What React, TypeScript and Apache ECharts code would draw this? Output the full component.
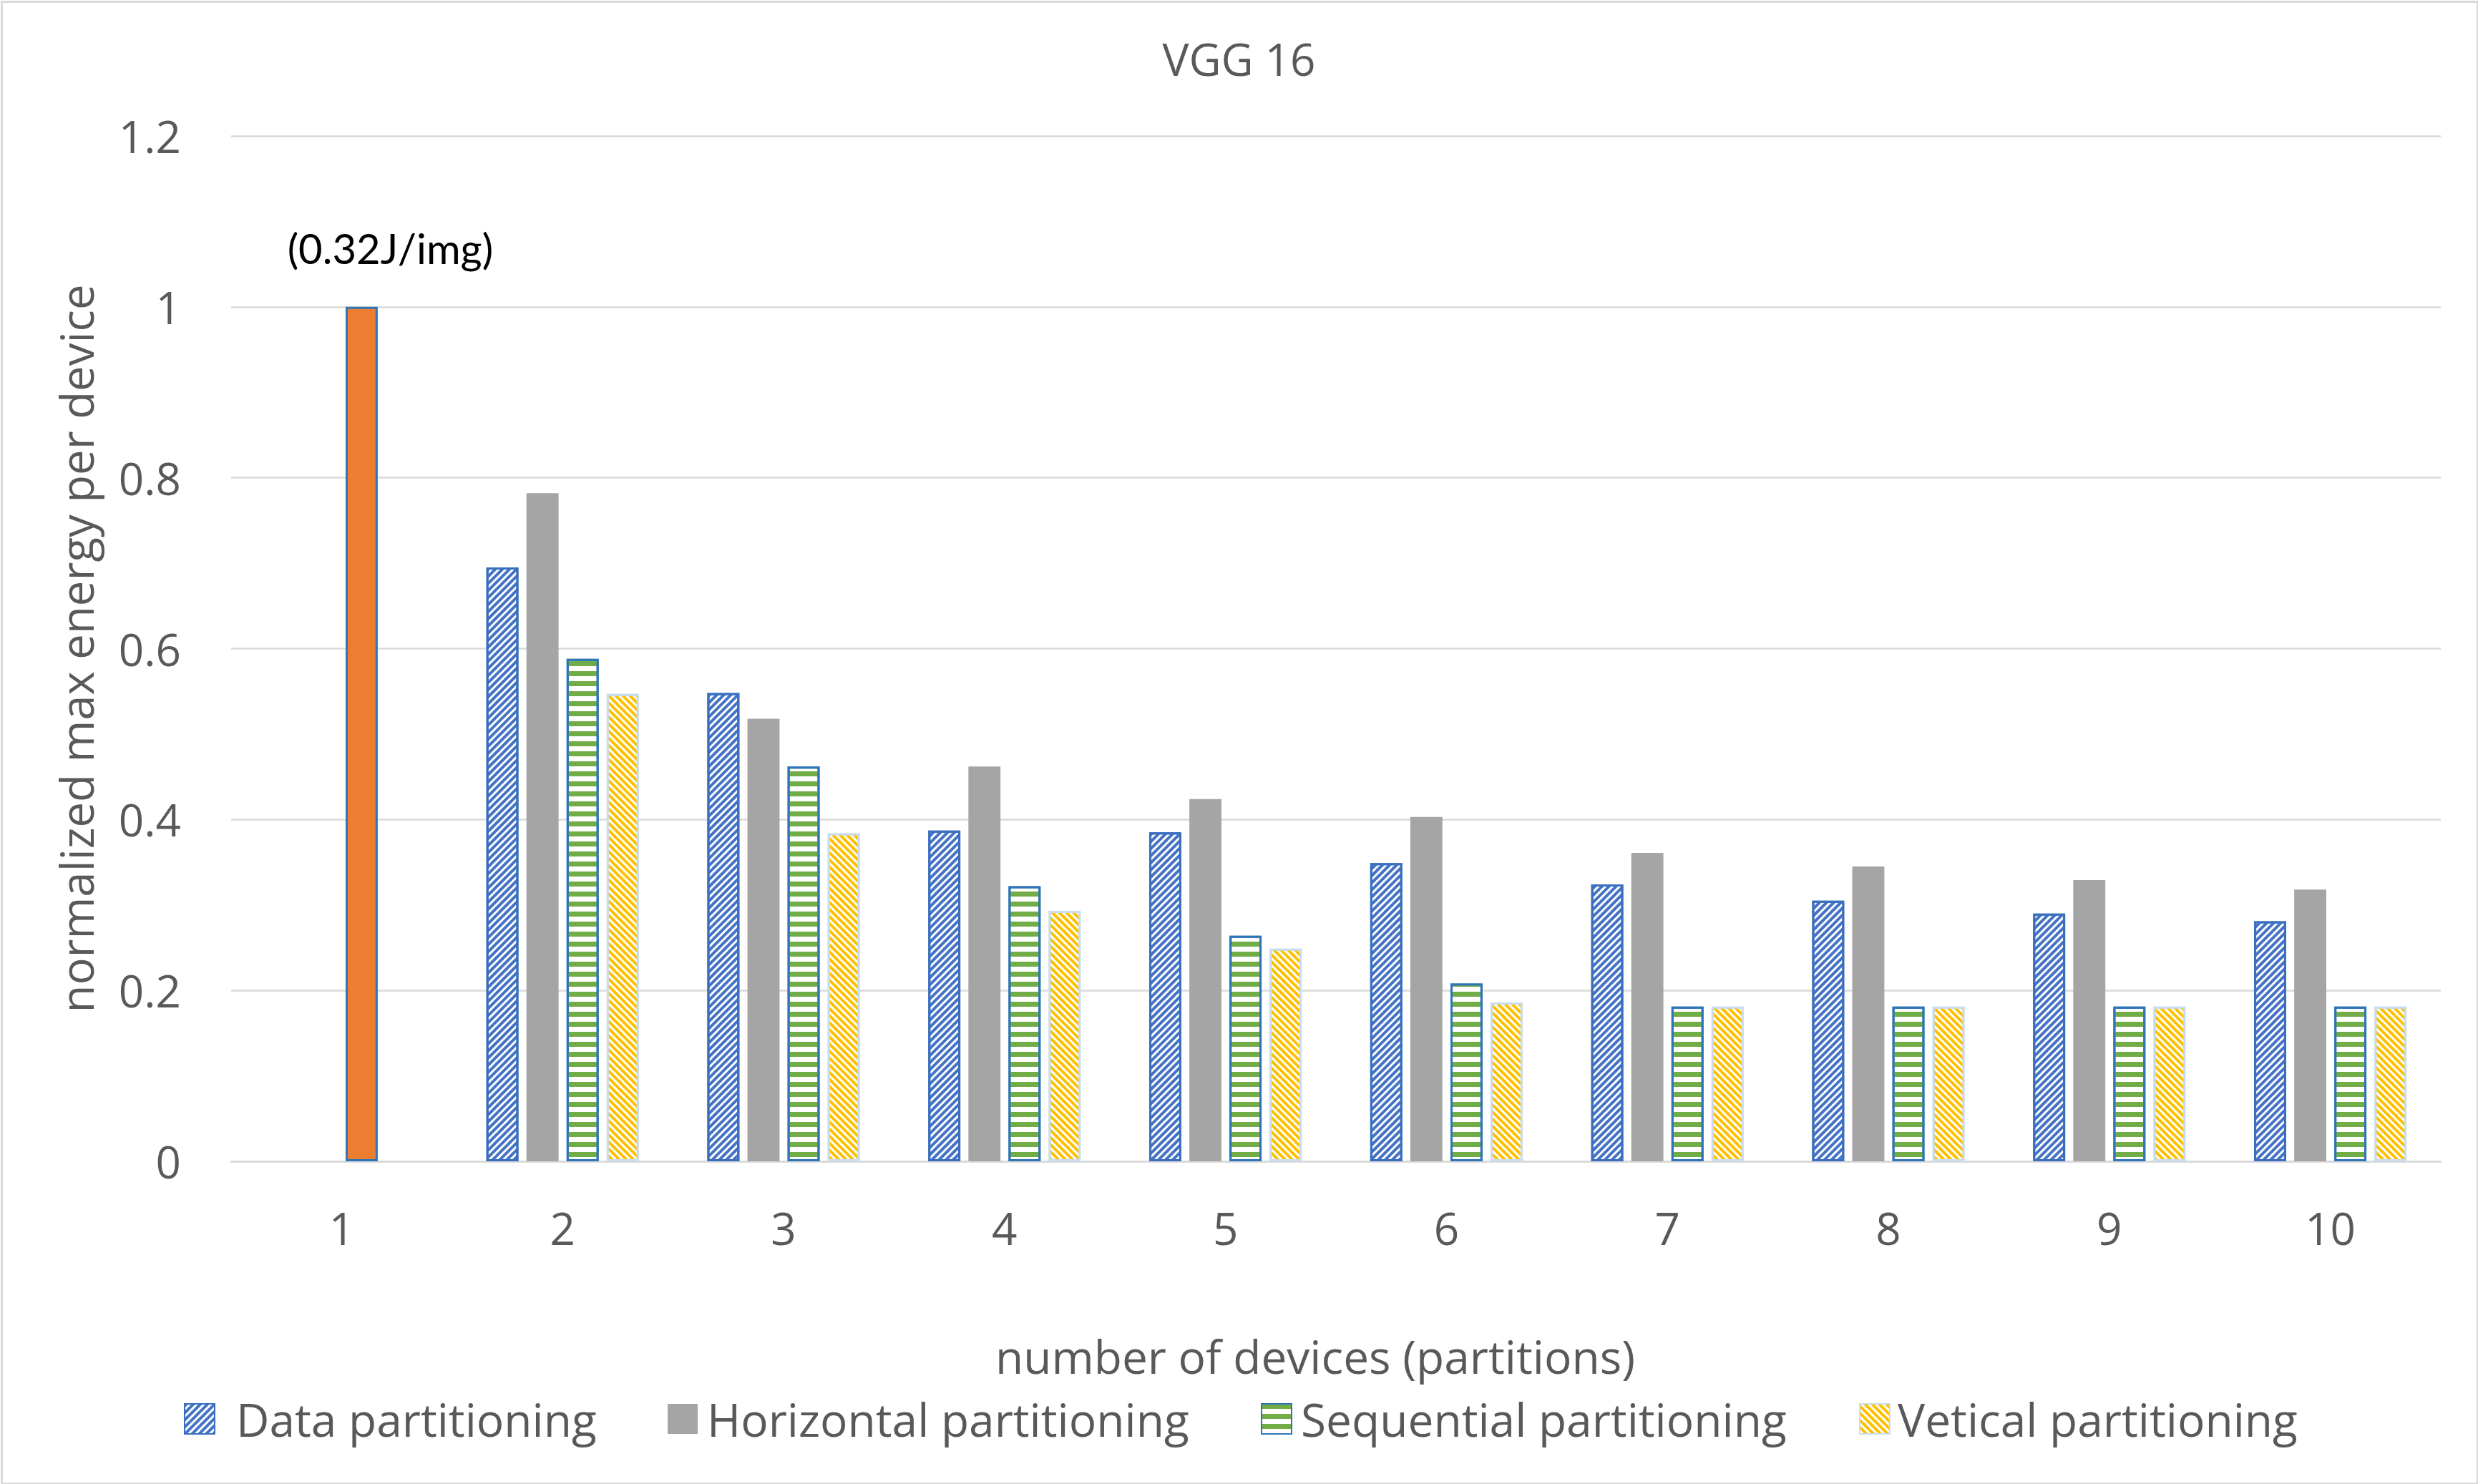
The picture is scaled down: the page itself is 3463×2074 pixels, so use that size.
import React, { useEffect, useRef } from 'react';
import * as echarts from 'echarts';

const categories = ['1', '2', '3', '4', '5', '6', '7', '8', '9', '10'];
const seriesNames = ['Data partitioning', 'Horizontal partitioning', 'Sequential partitioning', 'Vetical partitioning'];
const dataPartitioning = [null, 0.695, 0.548, 0.387, 0.385, 0.349, 0.324, 0.305, 0.29, 0.281];
const horizontalPartitioning = [null, 0.782, 0.518, 0.462, 0.424, 0.403, 0.361, 0.345, 0.329, 0.318];
const sequentialPartitioning = [1.0, 0.588, 0.462, 0.322, 0.264, 0.208, 0.181, 0.181, 0.181, 0.181];
const verticalPartitioning = [null, 0.547, 0.384, 0.293, 0.249, 0.186, 0.181, 0.181, 0.181, 0.181];
const baselineNote = '(0.32J/img)';
const titleText = 'VGG 16';
const xAxisTitle = 'number of devices (partitions)';
const yAxisTitle = 'normalized max energy per device';

const W = 3463;
const H = 2074;
const FONT = '"Open Sans", "Noto Sans", sans-serif';
const GREY_TEXT = '#595959';

export default function App() {
  const ref = useRef<HTMLDivElement>(null);
  useEffect(() => {
    if (!ref.current) return;
    const chart = echarts.init(ref.current, null, { renderer: 'svg', width: W, height: H });
    const legendLefts = [252, 928, 1757, 2593];
    const legendTextPad = [25, 8, 8, 6];
    const seqData = sequentialPartitioning.map((v, i) =>
      i === 0
        ? {
            value: v,
            itemStyle: { color: '#ED7D31', decal: 'none', borderColor: '#2E75B6', borderWidth: 3 },
            label: {
              show: true,
              position: 'top',
              formatter: baselineNote,
              color: '#000000',
              fontFamily: 'Lato, "Liberation Sans", sans-serif',
              fontSize: 58,
              offset: [40, -48],
            },
          }
        : v
    );
    chart.setOption({
      animation: false,
      backgroundColor: '#ffffff',
      title: {
        text: titleText,
        left: 'center',
        top: 46,
        textStyle: { color: GREY_TEXT, fontFamily: FONT, fontSize: 62, fontWeight: 'normal' },
      },
      grid: { left: 323, right: 52, top: 190, bottom: 451, containLabel: false },
      legend: seriesNames.map((n, i) => ({
        data: [n],
        left: legendLefts[i],
        top: 1946,
        itemWidth: 42,
        itemHeight: 42,
        icon: 'rect',
        textStyle: {
          color: GREY_TEXT,
          fontFamily: FONT,
          fontSize: 64,
          padding: [0, 0, 0, legendTextPad[i]],
        },
        selectedMode: false,
      })),
      xAxis: {
        type: 'category',
        data: categories,
        axisTick: { show: false },
        axisLine: { show: true, lineStyle: { color: '#D9D9D9', width: 2.5 } },
        axisLabel: { color: GREY_TEXT, fontFamily: FONT, fontSize: 62, margin: 62 },
        name: xAxisTitle,
        nameLocation: 'middle',
        nameGap: 240,
        nameTextStyle: { color: GREY_TEXT, fontFamily: FONT, fontSize: 64, padding: [0, 58, 0, 0] },
      },
      yAxis: {
        type: 'value',
        min: 0,
        max: 1.2,
        interval: 0.2,
        axisLine: { show: false },
        axisTick: { show: false },
        splitLine: { show: true, lineStyle: { color: '#D9D9D9', width: 2.5 } },
        axisLabel: { color: GREY_TEXT, fontFamily: FONT, fontSize: 62, margin: 70 },
        name: yAxisTitle,
        nameLocation: 'middle',
        nameRotate: 90,
        nameGap: 185,
        nameTextStyle: { color: GREY_TEXT, fontFamily: FONT, fontSize: 63.5 },
      },
      series: [
        {
          name: seriesNames[0],
          type: 'bar',
          data: dataPartitioning,
          barGap: '25%',
          barCategoryGap: '31%',
          itemStyle: {
            color: '#ffffff',
            borderColor: '#3A6FBF',
            borderWidth: 3,
            decal: {
              symbol: 'rect',
              symbolSize: 1,
              color: '#4472C4',
              dashArrayX: [1, 0],
              dashArrayY: [4, 3],
              rotation: -Math.PI / 4,
            },
          },
        },
        {
          name: seriesNames[1],
          type: 'bar',
          data: horizontalPartitioning,
          barGap: '25%',
          barCategoryGap: '31%',
          itemStyle: { color: '#A5A5A5' },
        },
        {
          name: seriesNames[2],
          type: 'bar',
          data: seqData,
          barGap: '25%',
          barCategoryGap: '31%',
          itemStyle: {
            color: '#ffffff',
            borderColor: '#2E75B6',
            borderWidth: 3,
            decal: {
              symbol: 'rect',
              symbolSize: 1,
              color: '#70AD47',
              dashArrayX: [1, 0],
              dashArrayY: [7, 7],
              rotation: 0,
            },
          },
        },
        {
          name: seriesNames[3],
          type: 'bar',
          data: verticalPartitioning,
          barGap: '25%',
          barCategoryGap: '31%',
          itemStyle: {
            color: '#ffffff',
            borderColor: '#C9DDF0',
            borderWidth: 3,
            decal: {
              symbol: 'rect',
              symbolSize: 1,
              color: '#FFC000',
              dashArrayX: [1, 0],
              dashArrayY: [4, 3],
              rotation: Math.PI / 4,
            },
          },
        },
      ],
      graphic: [
        {
          type: 'rect',
          left: 0,
          top: 0,
          shape: { x: 1.5, y: 1.5, width: W - 3, height: H - 3 },
          style: { fill: 'none', stroke: '#D9D9D9', lineWidth: 3 },
          silent: true,
          z: 100,
        },
      ],
    });
    return () => chart.dispose();
  }, []);
  return <div ref={ref} style={{ position: 'fixed', left: 0, top: 0, width: W, height: H }} />;
}
